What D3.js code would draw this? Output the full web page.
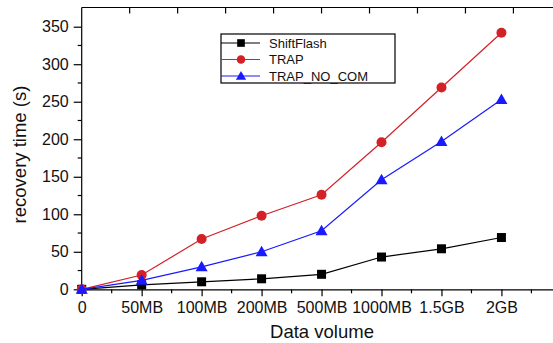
<!DOCTYPE html>
<html>
<head>
<meta charset="utf-8">
<script src="https://cdn.jsdelivr.net/npm/d3@7"></script>
<style>
body { margin:0; background:#fff; }
svg { display:block; font-family:"Liberation Sans", Arial, Helvetica, sans-serif; }
</style>
</head>
<body>
<svg id="chart" width="553" height="343"></svg>
<script>
// categories on the x axis
var categories = ["0", "50MB", "100MB", "200MB", "500MB", "1000MB", "1.5GB", "2GB"];
// recovery time in seconds
var shiftFlash = [0, 6, 10, 14, 20, 43, 54, 69];
var trap = [0, 19, 67, 98, 126, 196, 269, 342];
var trapNoCom = [0, 12, 30, 50, 78, 146, 197, 253];
var yTicks = [0, 50, 100, 150, 200, 250, 300, 350];

var series = [
	{name:"ShiftFlash", values:shiftFlash, color:"#000000", shape:"square"},
	{name:"TRAP", values:trap, color:"#d42027", shape:"circle"},
	{name:"TRAP_NO_COM", values:trapNoCom, color:"#1a1aff", shape:"triangle"}
];

var svg = d3.select("#chart");
var plotLeft = 81.7, plotRight = 553, plotTop = 7.5, plotBottom = 289.3;

var x = d3.scaleLinear().domain([0, 7.86]).range([plotLeft, plotRight]);
var y = d3.scaleLinear().domain([0, 375.6]).range([plotBottom, plotTop]);

// minor ticks
var xMinor = d3.range(0.5, 7.86, 1);
var yMinor = d3.range(25, 375, 50);

var g = svg.append("g");

// bottom axis
var xAxis = d3.axisBottom(x)
	.tickValues(d3.range(0, categories.length))
	.tickFormat(function(d) { return categories[d]; })
	.tickSizeInner(7).tickSizeOuter(0).tickPadding(5);
var gx = g.append("g").attr("transform", "translate(0," + plotBottom + ")").call(xAxis);
gx.selectAll("text").attr("font-size", "16px").attr("fill", "#111").attr("font-family", null);
gx.selectAll("line, path").attr("stroke", "#000").attr("stroke-width", 1.2);
gx.selectAll(".minor").data(xMinor).enter().append("line")
	.attr("x1", function(d) { return x(d); }).attr("x2", function(d) { return x(d); })
	.attr("y1", 0).attr("y2", 4).attr("stroke", "#000").attr("stroke-width", 1.2);

// left axis
var yAxis = d3.axisLeft(y).tickValues(yTicks)
	.tickSizeInner(8).tickSizeOuter(0).tickPadding(5);
var gy = g.append("g").attr("transform", "translate(" + plotLeft + ",0)").call(yAxis);
gy.select("path").attr("d", "M0," + plotBottom + "V" + plotTop);
gy.selectAll("text").attr("font-size", "16px").attr("fill", "#111").attr("font-family", null);
gy.selectAll("line, path").attr("stroke", "#000").attr("stroke-width", 1.2);
gy.selectAll(".minor").data(yMinor).enter().append("line")
	.attr("x1", -4).attr("x2", 0)
	.attr("y1", function(d) { return y(d); }).attr("y2", function(d) { return y(d); })
	.attr("stroke", "#000").attr("stroke-width", 1.2);

// top frame with ticks
var topTicks = d3.range(0.8, 7.86, 0.8);
g.append("line").attr("x1", plotLeft).attr("x2", plotRight).attr("y1", plotTop).attr("y2", plotTop)
	.attr("stroke", "#000").attr("stroke-width", 1.2);
g.selectAll(".ttick").data(topTicks).enter().append("line")
	.attr("x1", function(d) { return x(d); }).attr("x2", function(d) { return x(d); })
	.attr("y1", plotTop).attr("y2", plotTop + 6).attr("stroke", "#000").attr("stroke-width", 1.2);

// axis titles
svg.append("text").attr("x", 322).attr("y", 338).attr("text-anchor", "middle")
	.attr("font-size", "18.5px").attr("fill", "#111").text("Data volume");
svg.append("text").attr("transform", "translate(26,154.5) rotate(-90)").attr("text-anchor", "middle")
	.attr("font-size", "18.5px").attr("fill", "#111").text("recovery time (s)");

function drawMarker(sel, shape, color) {
	if(shape == "square") {
		sel.append("rect").attr("x", -4.5).attr("y", -4.5).attr("width", 9).attr("height", 9).attr("fill", color);
	} else if(shape == "circle") {
		sel.append("circle").attr("r", 5).attr("fill", color);
	} else {
		sel.append("path").attr("d", "M0,-6L6,4.5L-6,4.5Z").attr("fill", color);
	}
}

var line = d3.line()
	.x(function(d, i) { return x(i); })
	.y(function(d) { return y(d); });

series.forEach(function(s) {
	var sg = svg.append("g");
	sg.append("path").datum(s.values).attr("d", line)
		.attr("fill", "none").attr("stroke", s.color).attr("stroke-width", 1.2);
	sg.selectAll(".pt").data(s.values).enter().append("g")
		.attr("transform", function(d, i) { return "translate(" + x(i) + "," + y(d) + ")"; })
		.each(function() { drawMarker(d3.select(this), s.shape, s.color); });
});

// legend
var lg = svg.append("g").attr("transform", "translate(221,34)");
lg.append("rect").attr("width", 174).attr("height", 49)
	.attr("fill", "#fff").attr("stroke", "#000").attr("stroke-width", 1.2);
series.forEach(function(s, i) {
	var row = lg.append("g").attr("transform", "translate(0," + (9 + i * 16.5) + ")");
	row.append("line").attr("x1", 0).attr("x2", 39).attr("stroke", s.color).attr("stroke-width", 1.2);
	var m = row.append("g").attr("transform", "translate(20,0) scale(0.85)");
	drawMarker(m, s.shape, s.color);
	row.append("text").attr("x", 48).attr("y", 4.5).attr("font-size", "13px").attr("fill", "#111").text(s.name);
});
</script>
</body>
</html>
